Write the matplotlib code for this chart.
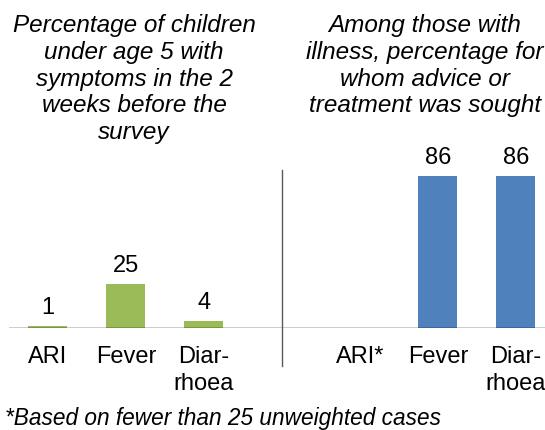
import matplotlib.pyplot as plt
import numpy as np

plt.rcParams['font.family'] = ['Liberation Sans', 'DejaVu Sans']

# Data
symptom_labels = ["ARI", "Fever", "Diar-\nrhoea"]
symptom_pct = [1, 25, 4]
advice_labels = ["ARI*", "Fever", "Diar-\nrhoea"]
advice_pct = [np.nan, 86, 86]   # ARI not shown: too few cases

green = "#9BBB59"
blue = "#4F81BD"

fig = plt.figure(figsize=(5.45, 4.3), dpi=100)
# axes stretches slightly past the right edge so the last bar gets cut like the original
ax = fig.add_axes([9 / 545, 102 / 430, 546 / 545, 158 / 430])

x_left = np.arange(3)
x_right = np.arange(3) + 4
width = 0.5

ax.bar(x_left, symptom_pct, width, color=green)
ax.bar(x_right, advice_pct, width, color=blue)

for x, v in zip(x_left, symptom_pct):
    ax.text(x, v + 4, str(v), ha='center', va='bottom', fontsize=17)
for x, v in zip(x_right, advice_pct):
    if not np.isnan(v):
        ax.text(x, v + 4, str(int(v)), ha='center', va='bottom', fontsize=17)

ax.set_xlim(-0.5, -0.5 + 546 / 78)
ax.set_ylim(0, 89.3)
ax.axhline(0, color='black', lw=1)

# divider between the two panels
ax.plot([3, 3], [-21.5, 89.3], color='#595959', lw=1, clip_on=False)

ax.set_xticks(list(x_left) + list(x_right))
ax.set_xticklabels(symptom_labels + advice_labels, fontsize=17, linespacing=1.3)
ax.tick_params(axis='x', length=0, pad=13)
ax.set_yticks([])
for s in ax.spines.values():
    s.set_visible(False)

fig.text(134 / 545, 1 - 14 / 430,
         "Percentage of children\nunder age 5 with\nsymptoms in the 2\nweeks before the\nsurvey",
         ha='center', va='top', fontsize=17.5, style='italic', linespacing=1.21)
fig.text(425 / 545, 1 - 14 / 430,
         "Among those with\nillness, percentage for\nwhom advice or\ntreatment was sought",
         ha='center', va='top', fontsize=17.5, style='italic', linespacing=1.21)

fig.text(5 / 545, 12 / 430, "*Based on fewer than 25 unweighted cases",
         ha='left', va='center', fontsize=16.3, style='italic')

fig.savefig("out.png", dpi=100)
